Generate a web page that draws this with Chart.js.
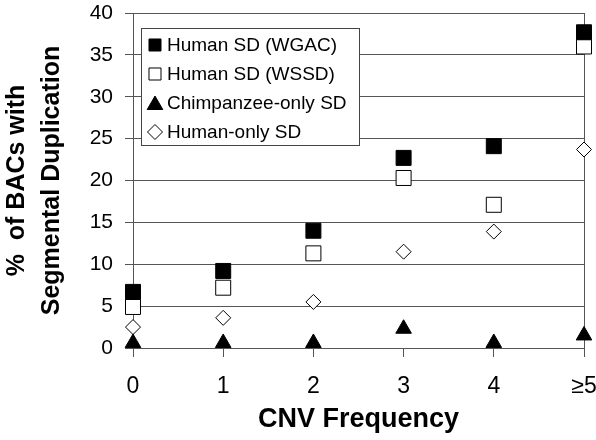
<!DOCTYPE html>
<html>
<head>
<meta charset="utf-8">
<script src="https://cdn.jsdelivr.net/npm/chart.js@4/dist/chart.umd.min.js"></script>
<style>
  html, body { margin: 0; padding: 0; background: #fff; }
  #wrap { width: 596px; height: 440px; }
</style>
</head>
<body>
<div id="wrap"><canvas id="cnvChart"></canvas></div>
<script>
// CNV frequency categories (x) and % of BACs with SD per series
const xLabels = ['0', '1', '2', '3', '4', '≥5'];
const wgac = [6.7, 9.2, 14.0, 22.7, 24.1, 37.7];
const wssd = [4.9, 7.2, 11.3, 20.3, 17.1, 36.0];
const chimpOnly = [0.6, 0.6, 0.6, 2.3, 0.6, 1.5];
const humanOnly = [2.5, 3.6, 5.5, 11.5, 13.9, 23.7];
const yMin = 0, yMax = 40, yStep = 5;

const FONT = '"Liberation Sans", Arial, sans-serif';
const LINE = '#555555';

function toPoints(vals) {
    return vals.map((v, i) => ({ x: i, y: v }));
}

// legend drawn inside plot area, like the original figure
const boxLegend = {
    id: 'boxLegend',
    afterDraw(chart) {
        const ctx = chart.ctx;
        const area = chart.chartArea;
        const left = Math.round(area.left) + 8, top = Math.round(area.top) + 15;
        const w = 218, h = 117;
        ctx.save();
        ctx.fillStyle = '#fff';
        ctx.fillRect(left, top, w, h);
        ctx.strokeStyle = '#444';
        ctx.lineWidth = 1;
        ctx.strokeRect(left + 0.5, top + 0.5, w, h);
        ctx.font = '19px ' + FONT;
        ctx.textBaseline = 'middle';
        chart.data.datasets.forEach((ds, i) => {
            const y = top + 17 + i * 29;
            const mx = left + 14;
            ctx.fillStyle = ds.pointBackgroundColor;
            ctx.strokeStyle = '#000';
            ctx.lineWidth = 1;
            Chart.helpers.drawPoint(ctx, {
                pointStyle: ds.pointStyle,
                radius: ds.legendRadius,
                borderWidth: 1
            }, mx, y + (ds.pointStyle === 'triangle' ? 2 : 0));
            ctx.fillStyle = '#000';
            ctx.fillText(ds.label, left + 26, y + 1);
        });
        ctx.restore();
    }
};

// right edge of plot area (behind the markers)
const rightBorder = {
    id: 'rightBorder',
    beforeDatasetsDraw(chart) {
        const ctx = chart.ctx;
        const a = chart.chartArea;
        const x = Math.round(a.right) + 0.5;
        ctx.save();
        ctx.strokeStyle = LINE;
        ctx.lineWidth = 1;
        ctx.beginPath();
        ctx.moveTo(x, a.top);
        ctx.lineTo(x, a.bottom + 9);
        ctx.stroke();
        ctx.restore();
    }
};

function generateChart() {
    const ctx = document.getElementById('cnvChart').getContext('2d');
    new Chart(ctx, {
        type: 'scatter',
        data: {
            datasets: [
                {
                    label: 'Human SD (WGAC)',
                    data: toPoints(wgac),
                    pointStyle: 'rect',
                    pointRadius: 10.6,
                    legendRadius: 8.5,
                    pointBackgroundColor: '#000',
                    pointBorderColor: '#000',
                    clip: false
                },
                {
                    label: 'Human SD (WSSD)',
                    data: toPoints(wssd),
                    pointStyle: 'rect',
                    pointRadius: 10.6,
                    legendRadius: 8.5,
                    pointBackgroundColor: '#fff',
                    pointBorderColor: '#000',
                    pointBorderWidth: 1,
                    clip: false
                },
                {
                    label: 'Chimpanzee-only SD',
                    data: toPoints(chimpOnly),
                    pointStyle: 'triangle',
                    pointRadius: 9,
                    legendRadius: 9,
                    pointBackgroundColor: '#000',
                    pointBorderColor: '#000',
                    clip: false
                },
                {
                    label: 'Human-only SD',
                    data: toPoints(humanOnly),
                    pointStyle: 'rectRot',
                    pointRadius: 7.5,
                    legendRadius: 7.5,
                    pointBackgroundColor: '#fff',
                    pointBorderColor: '#000',
                    pointBorderWidth: 1,
                    clip: false
                }
            ]
        },
        options: {
            responsive: true,
            maintainAspectRatio: false,
            animation: false,
            layout: {
                autoPadding: false,
                padding: { top: 0, right: 12, left: 0, bottom: 4 }
            },
            plugins: {
                legend: { display: false },
                tooltip: { enabled: false }
            },
            scales: {
                x: {
                    type: 'linear',
                    min: 0,
                    max: xLabels.length - 1,
                    afterFit: (scale) => {
                        scale.height = 88;
                        scale.paddingLeft = 0;
                        scale.paddingRight = 0;
                    },
                    ticks: {
                        stepSize: 1,
                        callback: (v) => xLabels[v],
                        color: '#000',
                        font: { family: FONT, size: 23 },
                        padding: 16,
                        maxRotation: 0
                    },
                    grid: {
                        display: true,
                        drawOnChartArea: false,
                        drawTicks: true,
                        tickLength: 9,
                        color: LINE,
                        lineWidth: 1
                    },
                    border: { display: true, color: LINE, width: 1 },
                    title: {
                        display: true,
                        text: 'CNV Frequency',
                        color: '#000',
                        font: { family: FONT, size: 27, weight: 'bold' },
                        padding: { top: 4, bottom: 0 }
                    }
                },
                y: {
                    type: 'linear',
                    min: yMin,
                    max: yMax,
                    afterFit: (scale) => {
                        scale.width = 133;
                        scale.paddingTop = 13;
                        scale.paddingBottom = 0;
                    },
                    ticks: {
                        stepSize: yStep,
                        color: '#000',
                        font: { family: FONT, size: 21 },
                        padding: 12
                    },
                    grid: {
                        display: true,
                        color: LINE,
                        lineWidth: 1,
                        drawTicks: true,
                        tickLength: 8
                    },
                    border: { display: true, color: LINE, width: 1 },
                    title: {
                        display: true,
                        text: ['%  of BACs with', 'Segmental Duplication'],
                        color: '#000',
                        font: { family: FONT, size: 25, weight: 'bold', lineHeight: 1.38 },
                        padding: { top: 0, bottom: 21 }
                    }
                }
            }
        },
        plugins: [rightBorder, boxLegend]
    });
}

window.onload = generateChart;
</script>
</body>
</html>
